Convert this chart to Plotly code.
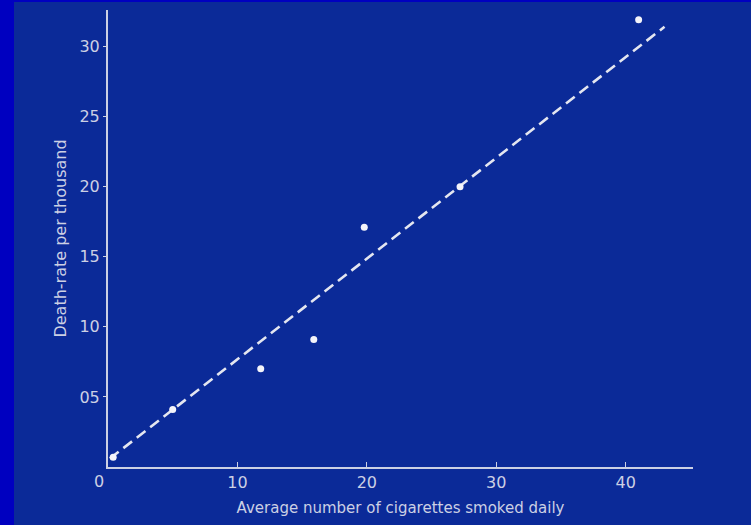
import plotly.graph_objects as go

# Data
cigs = [0.4, 5.0, 11.8, 15.9, 19.8, 27.2, 41.0]
death_rate = [0.07, 0.41, 0.70, 0.91, 1.71, 2.00, 3.19]
fit_x = [0.15, 43.0]
fit_y = [0.06, 3.14]
x_tickvals = [10, 20, 30, 40]
x_ticktext = ["10", "20", "30", "40"]
y_tickvals = [0.5, 1.0, 1.5, 2.0, 2.5, 3.0]
y_ticktext = ["05", "10", "15", "20", "25", "30"]

FG = "#ccd0e4"
FONT = "DejaVu Sans, sans-serif"

W, H = 751, 525
ml, mr, mt, mb = 108, 58, 10, 58
pw, ph = W - ml - mr, H - mt - mb

fig = go.Figure()
fig.add_trace(go.Scatter(
    x=fit_x, y=fit_y, mode="lines",
    line=dict(color="#e4e6f0", width=2.6, dash="11px,6px"),
    hoverinfo="skip", showlegend=False))
fig.add_trace(go.Scatter(
    x=cigs, y=death_rate, mode="markers",
    marker=dict(color="#f4f4fa", size=7, line=dict(width=0)),
    showlegend=False))

# inner photographic panel
fig.add_shape(type="rect", xref="paper", yref="paper",
              x0=(14 - ml) / pw, x1=(W + 5 - ml) / pw,
              y0=-(mb + 5) / ph, y1=(H - 2 - mb) / ph,
              fillcolor="#0b2a98", line=dict(width=0), layer="below")

fig.add_annotation(x=0, y=0, xref="x", yref="y", text="0", showarrow=False,
                   xshift=-9, yshift=-14, font=dict(family=FONT, size=16, color=FG))

fig.update_layout(
    width=W, height=H,
    margin=dict(l=ml, r=mr, t=mt, b=mb, autoexpand=False),
    paper_bgcolor="#0000c0",
    plot_bgcolor="rgba(0,0,0,0)",
    font=dict(family=FONT, size=16, color=FG),
    xaxis=dict(range=[0, 45.2], showgrid=False, zeroline=False,
               showline=True, linecolor=FG, linewidth=2,
               tickvals=x_tickvals, ticktext=x_ticktext,
               ticks="inside", ticklen=5, tickcolor=FG, tickwidth=1,
               title=dict(text="Average number of cigarettes smoked daily",
                          font=dict(size=15, color=FG), standoff=11)),
    yaxis=dict(range=[0, 3.26], showgrid=False, zeroline=False,
               showline=True, linecolor=FG, linewidth=2,
               tickvals=y_tickvals, ticktext=y_ticktext,
               ticks="outside", ticklen=3, tickcolor=FG, tickwidth=1,
               title=dict(text="Death-rate per thousand",
                          font=dict(size=16, color=FG), standoff=9)),
)

fig.write_html("out.html", config={"displayModeBar": False},
               post_script="document.body.style.margin='0';")
